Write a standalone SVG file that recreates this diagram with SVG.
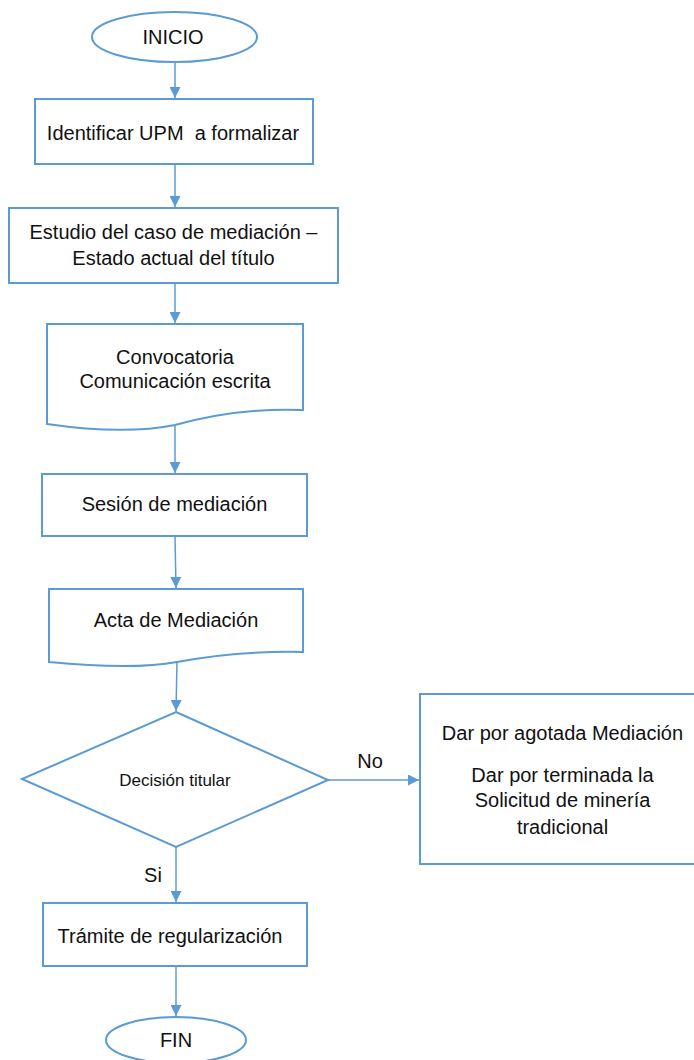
<svg xmlns="http://www.w3.org/2000/svg" width="694" height="1060" viewBox="0 0 694 1060">
<style>
.s{fill:#fff;stroke:#5B9BD5;stroke-width:2}
.c{fill:none;stroke:#5B9BD5;stroke-width:1.5}
text{font-family:"Liberation Sans",Arial,sans-serif;font-size:20px;fill:#111;text-anchor:middle}
.sm{font-size:17px}
</style>
<defs>
<marker id="ah" viewBox="0 0 10 10" refX="10" refY="5" markerWidth="11" markerHeight="11" markerUnits="userSpaceOnUse" orient="auto">
<path d="M0,0 L10,5 L0,10 Z" fill="#5B9BD5"/>
</marker>
</defs>
<rect width="694" height="1060" fill="#fff"/>
<g id="connectors">
<line class="c" x1="175" y1="62" x2="175" y2="98" marker-end="url(#ah)"/>
<line class="c" x1="175" y1="164" x2="175" y2="207" marker-end="url(#ah)"/>
<line class="c" x1="175" y1="283" x2="175" y2="323" marker-end="url(#ah)"/>
<line class="c" x1="175" y1="425" x2="175" y2="473" marker-end="url(#ah)"/>
<line class="c" x1="175" y1="536" x2="176" y2="588" marker-end="url(#ah)"/>
<line class="c" x1="177" y1="662" x2="176" y2="711" marker-end="url(#ah)"/>
<line class="c" x1="328" y1="780" x2="419" y2="780" marker-end="url(#ah)"/>
<line class="c" x1="176" y1="847" x2="176" y2="902" marker-end="url(#ah)"/>
<line class="c" x1="176" y1="966" x2="176" y2="1016" marker-end="url(#ah)"/>
<text x="370" y="768">No</text>
<text x="153" y="882">Si</text>
</g>
<g id="inicio">
<ellipse class="s" cx="174.5" cy="37" rx="82.5" ry="25"/>
<text x="173" y="44">INICIO</text>
</g>
<g id="identificar">
<rect class="s" x="35" y="99" width="278" height="65"/>
<text x="173" y="140" xml:space="preserve">Identificar UPM  a formalizar</text>
</g>
<g id="estudio">
<rect class="s" x="9" y="208" width="329" height="75"/>
<text x="173.5" y="239">Estudio del caso de mediación –</text>
<text x="173.5" y="265">Estado actual del título</text>
</g>
<g id="convocatoria">
<path class="s" d="M47,324 H303 V410 C255,408 215,414 175,425 C140,432 95,431 47,424 Z"/>
<text x="175" y="364">Convocatoria</text>
<text x="175" y="388">Comunicación escrita</text>
</g>
<g id="sesion">
<rect class="s" x="42" y="474" width="265" height="62"/>
<text x="174.5" y="511">Sesión de mediación</text>
</g>
<g id="acta">
<path class="s" d="M49,589 H303 V652 C255,651 215,655 177,662 C145,668 100,667 49,662 Z"/>
<text x="176" y="627">Acta de Mediación</text>
</g>
<g id="decision">
<polygon class="s" points="176,712 328,780 176,847 22,779"/>
<text class="sm" x="175" y="786">Decisión titular</text>
</g>
<g id="agotada">
<rect class="s" x="420" y="694" width="290" height="170"/>
<text x="562.5" y="740">Dar por agotada Mediación</text>
<text x="562.5" y="782">Dar por terminada la</text>
<text x="562.5" y="807">Solicitud de minería</text>
<text x="562.5" y="834">tradicional</text>
</g>
<g id="tramite">
<rect class="s" x="43" y="903" width="264" height="63"/>
<text x="170" y="943">Trámite de regularización</text>
</g>
<g id="fin">
<ellipse class="s" cx="176" cy="1040" rx="70" ry="23"/>
<text x="176" y="1047">FIN</text>
</g>
</svg>
